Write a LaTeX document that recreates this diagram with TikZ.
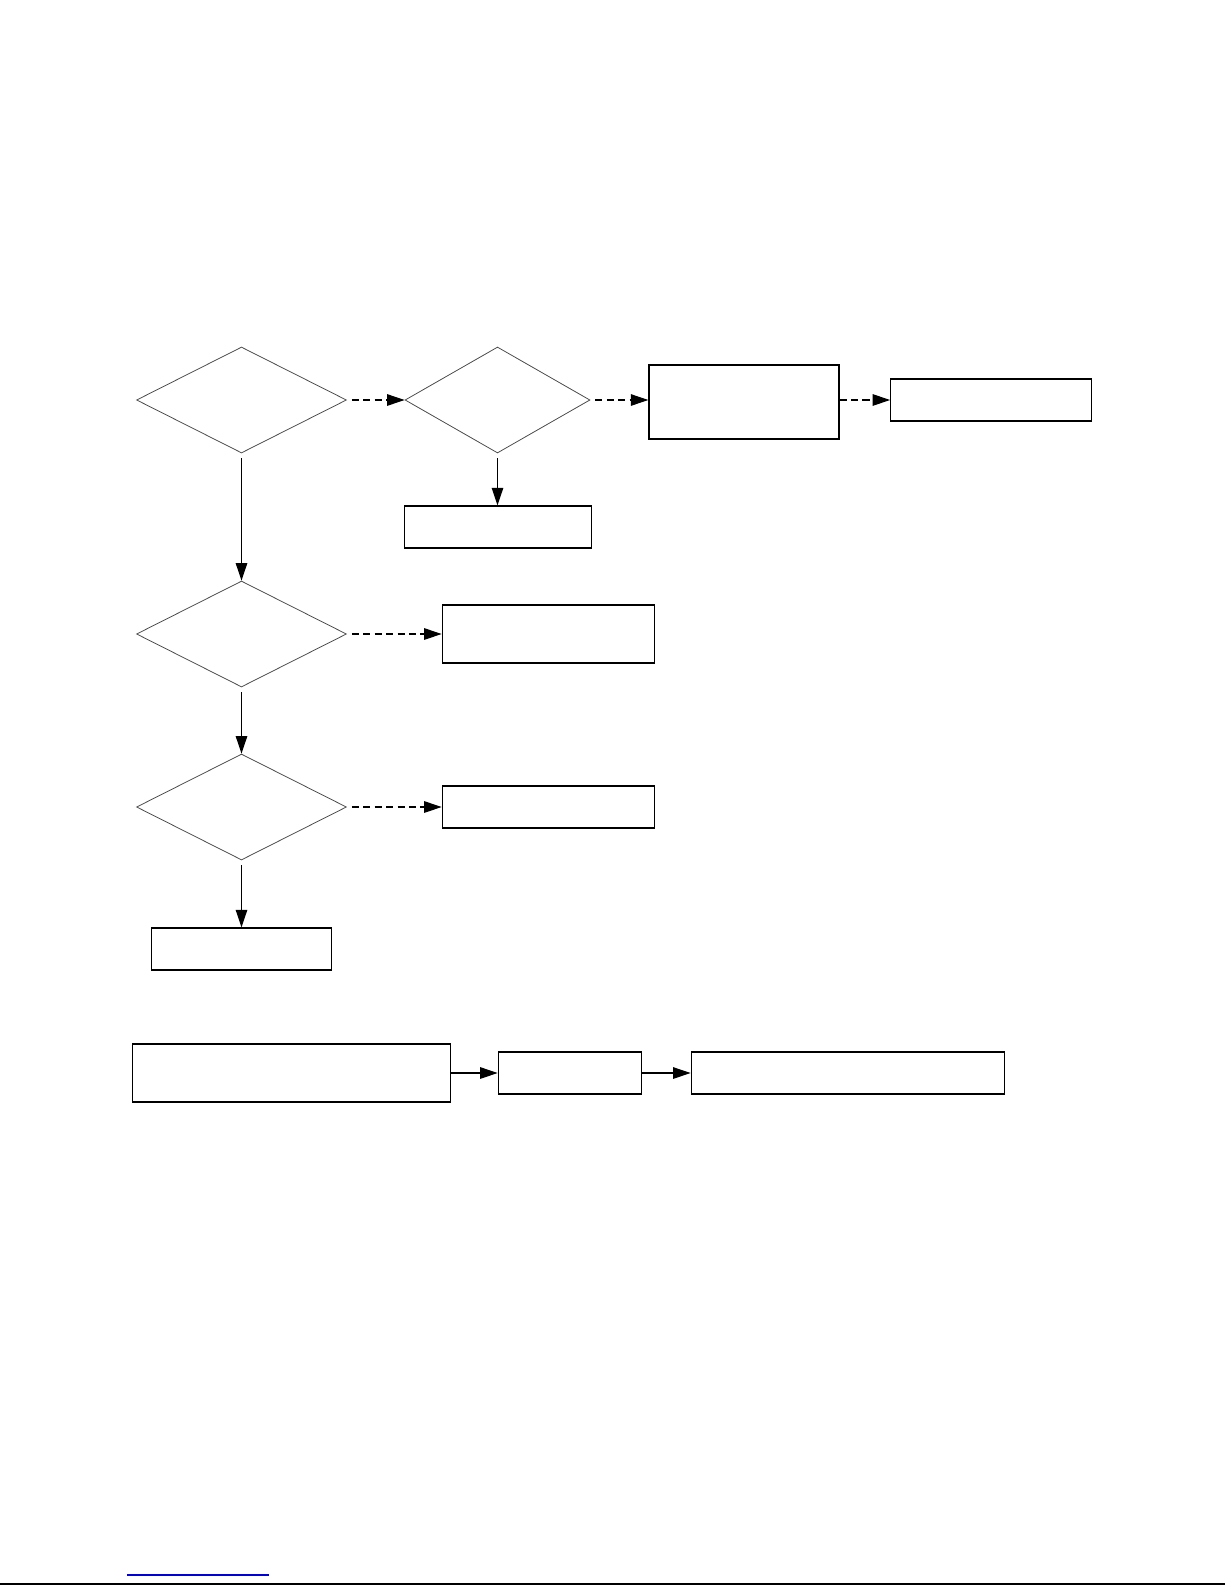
\documentclass[tikz,border=0pt]{standalone}
\usepackage{tikz}
\usetikzlibrary{shapes.geometric}
\usetikzlibrary{arrows.meta}

\tikzset{
  decision/.style={draw=black!70, line width=0.45pt, diamond, inner sep=0pt,
    minimum width=4.2cm, minimum height=2.12cm},
  block/.style={draw, line width=0.75pt, rectangle, inner sep=0pt, minimum height=0.84cm},
  flow/.style={line width=0.6pt, -{Triangle[length=0.35cm,width=0.23cm]}, shorten <=0.1cm},
  branch/.style={flow, dash pattern=on 4pt off 2.5pt}
}

\begin{document}
\begin{tikzpicture}[x=0.02cm, y=-0.02cm]
\useasboundingbox (0,0) rectangle (1225,1585);

% upper chain
\node[decision] (q1) at (241.5,400) {};
\node[decision, minimum width=3.7cm] (q2) at (497.5,400) {};
\node[block, minimum width=3.8cm, minimum height=1.48cm] (r2) at (744,402) {};
\node[block, minimum width=4.02cm] (r3) at (991.3,400) {};
\node[block, minimum width=3.74cm] (r1) at (498,527) {};

% left column
\node[decision] (q3) at (241.5,634) {};
\node[decision] (q4) at (241.5,807) {};
\node[block, minimum width=4.24cm, minimum height=1.16cm] (r4) at (548.3,634) {};
\node[block, minimum width=4.24cm] (r5) at (548.3,807) {};
\node[block, minimum width=3.6cm] (r6) at (241.3,949) {};

% bottom row
\node[block, minimum width=6.36cm, minimum height=1.16cm] (s1) at (291.3,1073) {};
\node[block, minimum width=2.86cm] (s2) at (569.8,1073) {};
\node[block, minimum width=6.27cm] (s3) at (848,1073) {};

\draw[branch] (q1.east) -- (q2.west);
\draw[branch] (q2.east) -- (q2.east -| r2.west);
\draw[branch, shorten <=0pt] (q2.east -| r2.east) -- (q2.east -| r3.west);
\draw[flow] (q2.south) -- (q2.south |- r1.north);

\draw[flow] (q1.south) -- (q3.north);
\draw[flow] (q3.south) -- (q4.north);
\draw[flow] (q4.south) -- (q4.south |- r6.north);
\draw[branch] (q3.east) -- (r4.west);
\draw[branch] (q4.east) -- (r5.west);

\draw[flow, shorten <=0pt] (s1.east) -- (s2.west);
\draw[flow, shorten <=0pt] (s2.east) -- (s3.west);

% page rules
\draw[blue!85!black, line width=0.6pt] (127,1575) -- (269,1575);
\draw[line width=0.9pt] (0,1584) -- (1225,1584);
\end{tikzpicture}
\end{document}
